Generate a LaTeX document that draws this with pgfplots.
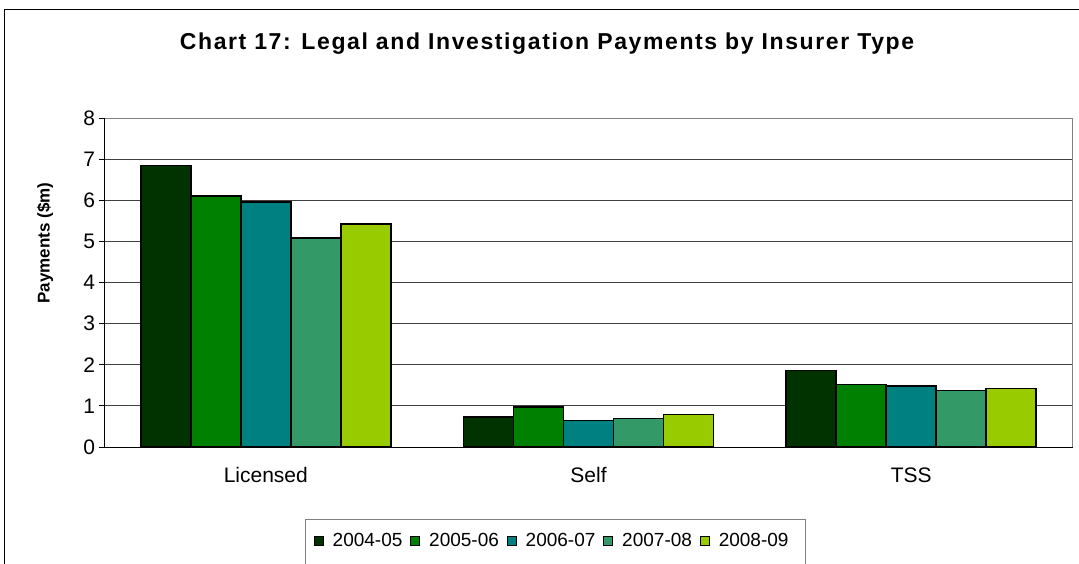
\documentclass[border=0pt]{standalone}
\usepackage{pgfplots}
\pgfplotsset{compat=1.18}
\usepackage{fontspec}
\setmainfont{Liberation Sans}
\newfontfamily\titlefont[LetterSpace=7]{Liberation Sans Bold}
\definecolor{cA}{HTML}{003300}
\definecolor{cB}{HTML}{008000}
\definecolor{cC}{HTML}{008080}
\definecolor{cD}{HTML}{339966}
\definecolor{cE}{HTML}{99CC00}
\newcommand{\ticfont}{\fontsize{21bp}{25bp}\selectfont}
\newcommand{\legfont}{\fontsize{19bp}{23bp}\selectfont}
\begin{document}
\begin{tikzpicture}[x=1bp,y=1bp]
\path[use as bounding box] (0,0) rectangle (1079,-564);
\draw[black,line width=1bp] (4.5,-564) -- (4.5,-10) -- (1079,-10);
\node[font={\titlefont\fontsize{23bp}{27bp}\selectfont},anchor=base] at (547,-50) {Chart 17: Legal and Investigation Payments by Insurer Type};
\draw[gray,line width=1bp] (305,-564) -- (305,-519) -- (805,-519) -- (805,-564);
\begin{axis}[
  at={(104.5bp,-447bp)}, anchor=south west,
  scale only axis, width=968bp, height=329bp,
  ybar=0pt, bar width=50bp,
  legend image code/.code={\draw[#1,draw=black,line width=0.8bp] (0bp,-4.5bp) rectangle (9bp,4.5bp);},
  xmin=-0.5, xmax=2.5, ymin=0, ymax=8,
  xtick={0,1,2}, xticklabels={Licensed,Self,TSS},
  x tick style={draw=none},
  extra x ticks={-0.5,0.5,1.5,2.5}, extra x tick labels={},
  extra x tick style={grid=none, major tick length=6bp, tick style={draw=black,line width=0.8bp}},
  ytick={0,1,...,8},
  xtick pos=bottom, ytick pos=left,
  tick align=outside, major tick length=6bp,
  y tick style={draw=black,line width=0.8bp},
  ymajorgrids, major grid style={black!75,line width=0.8bp},
  axis line style={draw=gray,line width=1bp},
  tick label style={font=\ticfont},
  /pgf/number format/assume math mode=true,
  x tick label style={yshift=-11bp},
  ylabel={\fontsize{17bp}{20bp}\selectfont\bfseries Payments (\$m)},
  ylabel style={at={(axis description cs:-0.0614,0.62)}, anchor=center},
  legend columns=5,
  legend style={at={(axis description cs:0.4625,-0.2857)}, anchor=center, draw=none, fill=none, font=\legfont,
    /tikz/every even column/.append style={column sep=6bp},
    /tikz/every odd column/.append style={column sep=7bp}},
  clip=false,
]
\addplot[fill=cA,draw=black,line width=1.5bp] coordinates {(0,6.84) (1,0.73) (2,1.86)};
\addplot[fill=cB,draw=black,line width=1.5bp] coordinates {(0,6.10) (1,0.97) (2,1.52)};
\addplot[fill=cC,draw=black,line width=1.5bp] coordinates {(0,5.96) (1,0.64) (2,1.48)};
\addplot[fill=cD,draw=black,line width=1.5bp] coordinates {(0,5.08) (1,0.69) (2,1.37)};
\addplot[fill=cE,draw=black,line width=1.5bp] coordinates {(0,5.42) (1,0.79) (2,1.42)};
\legend{2004-05,2005-06,2006-07,2007-08,2008-09}
\draw[black,line width=1bp] (rel axis cs:0,1) -- (rel axis cs:0,0) -- (rel axis cs:1,0);
\end{axis}
\end{tikzpicture}
\end{document}
